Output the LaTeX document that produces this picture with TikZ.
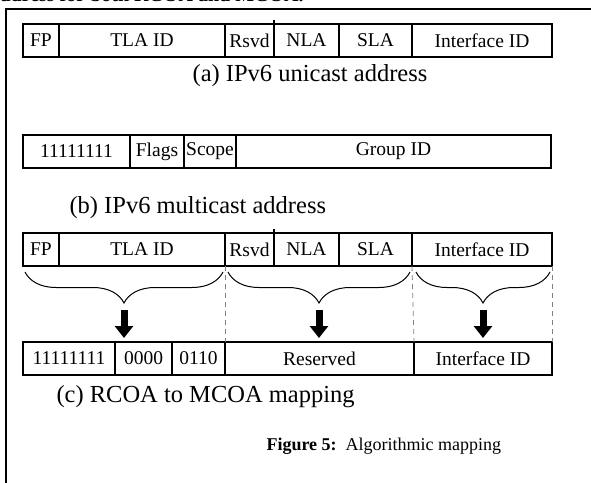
\documentclass[tikz,border=0pt]{standalone}
\usepackage{fontspec}
\setmainfont{Liberation Serif}
\usetikzlibrary{arrows.meta,decorations.pathreplacing,calc}

\begin{document}
\begin{tikzpicture}[x=1pt,y=-1pt]
        \tikzstyle {cell} = [rectangle, draw=black, line width=1.2pt, anchor=north west, inner sep=0pt, outer sep=0pt, minimum height=33pt, font=\fontsize{19.5}{19.5}\selectfont]
        \tikzstyle {legende} = [anchor=base, font=\fontsize{24.5}{24.5}\selectfont]
        \tikzstyle {accolade} = [decorate, decoration={brace, amplitude=31pt, aspect=0.5}, line width=1pt]
        \tikzstyle {fleche} = [line width=7pt, -{Triangle[width=18pt,length=12pt]}, shorten >=4pt]
        \tikzstyle {separation} = [gray, line width=0.8pt, dash pattern=on 5pt off 4pt]
        \useasboundingbox (0,0) rectangle (591,482);
        \clip (0,0) rectangle (591,482);
        % Texte du dessus et cadre
        \node (entete) [anchor=base west, font=\fontsize{20}{20}\selectfont\bfseries] at (-14,1) {address for both RCOA and MCOA.};
        \draw[line width=2.2pt] (6,500) -- (6,9) -- (600,9);
        % Adresse unicast (a) et (c)
        \foreach \r/\y in {a/24, c/233} {
                \node (fp\r) [cell, minimum width=36pt] at (23,\y) {FP};
                \node (tla\r) [cell, minimum width=166pt] at (fp\r.north east) {TLA ID};
                \node (rsvd\r) [cell, minimum width=49pt] at (tla\r.north east) {Rsvd};
                \node (nla\r) [cell, minimum width=65pt] at (rsvd\r.north east) {NLA};
                \node (sla\r) [cell, minimum width=73pt] at (nla\r.north east) {SLA};
                \node (iid\r) [cell, minimum width=140pt] at (sla\r.north east) {Interface ID};
                \draw[line width=1.2pt] (nla\r.north west) -- ++(0,-4);
        }
        \node (legende_a) [legende] at (310,81) {(a) IPv6 unicast address};
        % Adresse multicast (b)
        \node (prefixe) [cell, minimum width=107pt] at (23,135) {11111111};
        \node (flags) [cell, minimum width=54pt] at (prefixe.north east) {Flags};
        \node (scope) [cell, minimum width=52pt] at (flags.north east) {Scope};
        \node (groupe) [cell, minimum width=315pt] at (scope.north east) {Group ID};
        \node (legende_b) [legende, anchor=base west] at (66,213) {(b) IPv6 multicast address};
        % Adresse MCOA
        \node (mprefixe) [cell, minimum width=92pt] at (23,342) {11111111};
        \node (mflags) [cell, minimum width=57pt] at (mprefixe.north east) {0000};
        \node (mscope) [cell, minimum width=53pt] at (mflags.north east) {0110};
        \node (reserve) [cell, minimum width=189pt] at (mscope.north east) {Reserved};
        \node (miid) [cell, minimum width=138pt] at (reserve.north east) {Interface ID};
        % Accolades et fleches
        \coordinate (acc1_g) at ($(fpc.south west)+(2,6)$);
        \coordinate (acc1_d) at ($(tlac.south east)+(-2,6)$);
        \coordinate (acc2_g) at ($(rsvdc.south west)+(3,6)$);
        \coordinate (acc2_d) at ($(slac.south east)+(-2,6)$);
        \coordinate (acc3_g) at ($(iidc.south west)+(4,6)$);
        \coordinate (acc3_d) at ($(iidc.south east)+(-2,6)$);
        \draw[accolade] (acc1_d) -- (acc1_g);
        \draw[accolade] (acc2_d) -- (acc2_g);
        \draw[accolade] (acc3_d) -- (acc3_g);
        \coordinate (pointe1) at ($(acc1_g)!0.5!(acc1_d)+(0,38)$);
        \coordinate (pointe2) at ($(acc2_g)!0.5!(acc2_d)+(0,38)$);
        \coordinate (pointe3) at ($(acc3_g)!0.5!(acc3_d)+(0,38)$);
        \draw[fleche] (pointe1) -- (pointe1 |- mprefixe.north);
        \draw[fleche] (pointe2) -- (pointe2 |- reserve.north);
        \draw[fleche] (pointe3) -- (pointe3 |- miid.north);
        \draw[separation] (tlac.south east) -- (reserve.north west);
        \draw[separation] (slac.south east) -- (reserve.north east);
        \draw[separation] (iidc.south east) -- (miid.north east);
        % Legendes du bas
        \node (legende_c) [legende, anchor=base west] at (53,402) {(c) RCOA to MCOA mapping};
        \node (titre) [anchor=base west, font=\fontsize{18}{18}\selectfont] at (263,450) {\textbf{Figure 5:}\ \ Algorithmic mapping};
\end{tikzpicture}
\end{document}
